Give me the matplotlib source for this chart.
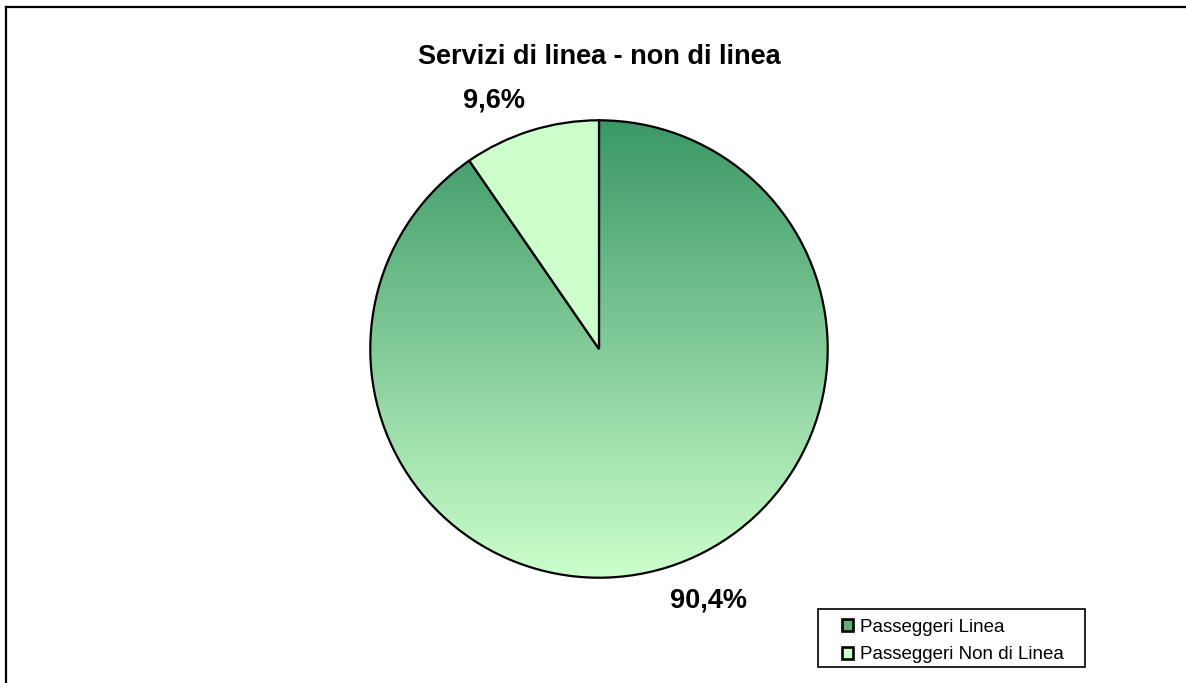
import numpy as np
import matplotlib.pyplot as plt
from matplotlib.patches import Patch, Rectangle
from matplotlib.lines import Line2D
from matplotlib.colors import LinearSegmentedColormap

plt.rcParams.update({'font.family': ['Liberation Sans', 'DejaVu Sans']})

# Dati
categorie = ['Passeggeri Linea', 'Passeggeri Non di Linea']
valori = [90.4, 9.6]
titolo = 'Servizi di linea - non di linea'

W, H = 1186, 683
fig = plt.figure(figsize=(W / 100, H / 100), dpi=100)

# Cornice (solo lati visibili)
fig.add_artist(Line2D([6 / W, 6 / W], [0, 1 - 7 / H], color='black', lw=1.6, transform=fig.transFigure))
fig.add_artist(Line2D([6 / W, 1], [1 - 7 / H, 1 - 7 / H], color='black', lw=1.6, transform=fig.transFigure))

# Asse della torta: centro (599, 349), raggio 231 px
r = 231
ax = fig.add_axes([(599 - r) / W, (H - 349 - r) / H, 2 * r / W, 2 * r / H])

wedges, _ = ax.pie(valori, startangle=90, counterclock=False,
                   colors=['none', '#ccffcc'],
                   wedgeprops=dict(edgecolor='black', linewidth=1.6))

# Gradiente verticale per la fetta grande
cmap = LinearSegmentedColormap.from_list('verde', ['#3a9866', '#ccffcc'])
grad = np.linspace(0, 1, 256).reshape(-1, 1)
im = ax.imshow(grad, cmap=cmap, extent=(-1, 1, -1, 1), aspect='auto', zorder=0.5)
im.set_clip_path(wedges[0])

ax.set_xlim(-1.01, 1.01)
ax.set_ylim(-1.01, 1.01)
ax.axis('off')

# Etichette percentuali
pos_etichette = [(0.48, -1.10), (-0.46, 1.085)]
for v, (x, y) in zip(valori, pos_etichette):
    ax.text(x, y, f'{v:.1f}%'.replace('.', ','), ha='center', va='center',
            fontsize=19.5, fontweight='bold', clip_on=False)

fig.text(599 / W, 1 - 57 / H, titolo, ha='center', va='center',
         fontsize=19.5, fontweight='bold')

# Legenda
fig.add_artist(Rectangle((818 / W, 1 - 667 / H), 267 / W, 58 / H, transform=fig.transFigure,
                         facecolor='white', edgecolor='black', lw=1.2, zorder=2))
handles = [Patch(facecolor='#5fae7e', edgecolor='black', lw=1.9),
           Patch(facecolor='#ccffcc', edgecolor='black', lw=1.9)]
leg = fig.legend(handles, categorie, loc='center left',
                 bbox_to_anchor=(842 / W, 1 - 641 / H),
                 fontsize=13.5, frameon=False, handlelength=0.6,
                 handleheight=0.6, handletextpad=0.35, borderpad=0,
                 labelspacing=0.55, borderaxespad=0)
leg.set_zorder(3)

fig.savefig('out.png', dpi=100)
